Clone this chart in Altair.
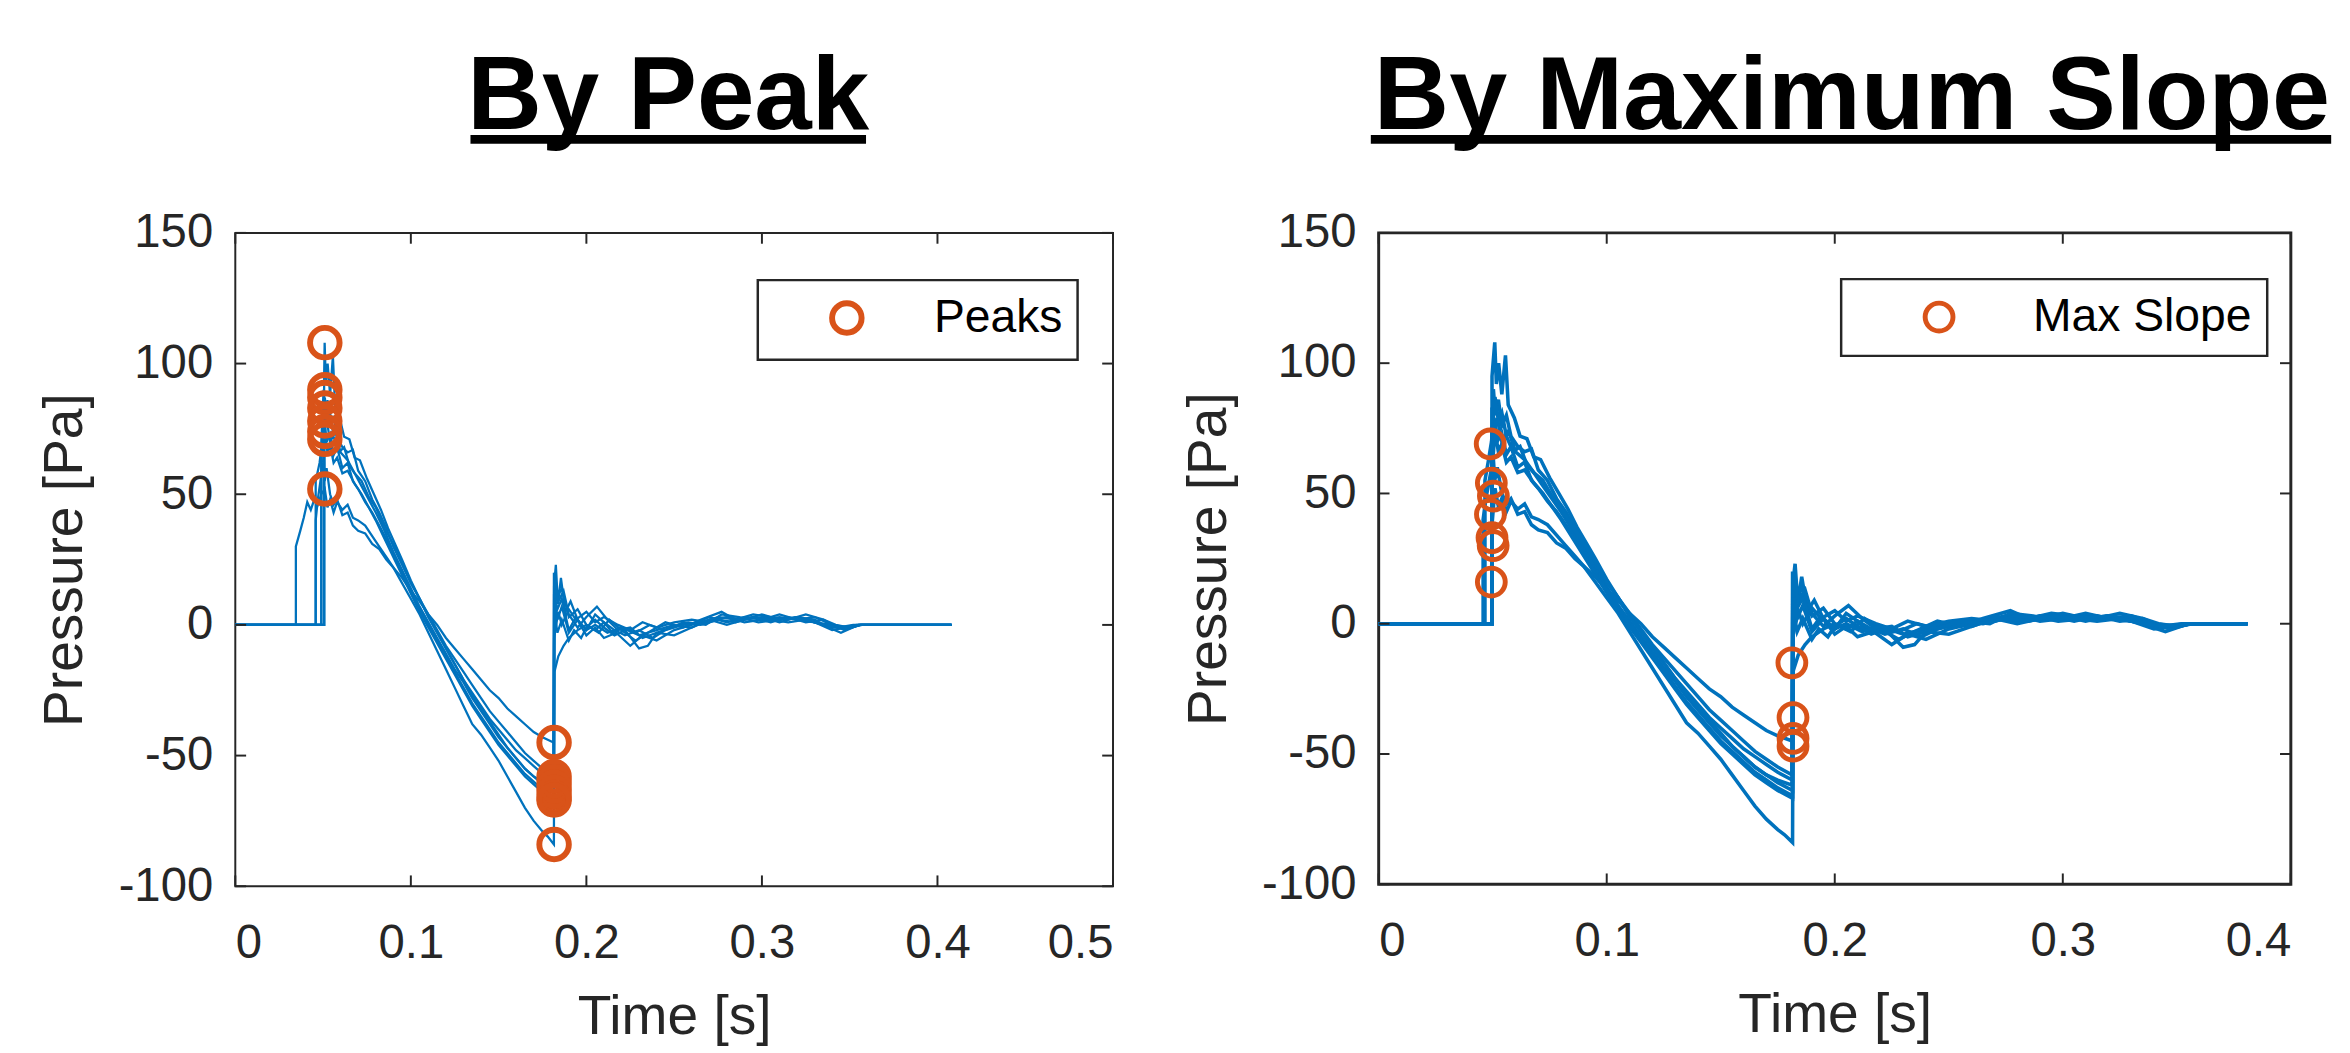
import altair as alt
import pandas as pd

FONT = "Liberation Sans"
BLUE = "#0072BD"
ORANGE = "#D95319"
INK = "#262626"

# ---------------- data ----------------
TRACE_NAMES = ["A", "B", "C", "D", "E", "F", "G", "H"]

ONSET_LEFT = [0.0506, 0.0490, 0.0458, 0.0506, 0.0490, 0.0458, 0.0506, 0.0345]
ONSET_RIGHT = [0.0497, 0.0497, 0.0466, 0.0497, 0.0497, 0.0458, 0.0497, 0.0497]
JUMP_LEFT = [95, 70, 55, 83, 65, 40, 71, 30]
JUMP_RIGHT = [95, 70, 55, 83, 65, 40, 71, 38]
START_T = 0.0
END_T_LEFT = 0.408
END_T_RIGHT = 0.381

H_LEFT_RAMP = [(0.037, 36), (0.039, 41), (0.041, 47), (0.043, 44), (0.045, 48), (0.047, 46), (0.049, 50)]

A_BODY = [(0.0509, 108), (0.0516, 92), (0.0526, 100), (0.054, 88), (0.0556, 103), (0.0568, 84), (0.0595, 79),
          (0.062, 72), (0.065, 71), (0.068, 64), (0.071, 63), (0.075, 56), (0.079, 50), (0.083, 44), (0.087, 37),
          (0.091, 31), (0.095, 25), (0.1, 17), (0.105, 10), (0.11, 3), (0.115, -3), (0.12, -9), (0.125, -15),
          (0.13, -21), (0.135, -26), (0.14, -31), (0.145, -36), (0.15, -40), (0.155, -44), (0.16, -48),
          (0.165, -51), (0.17, -54), (0.175, -57), (0.1814, -60), (0.1816, 15), (0.1826, 23), (0.1838, 8),
          (0.1855, 18), (0.188, 5), (0.191, 9), (0.195, 2), (0.2, -2), (0.205, 4), (0.21, 1), (0.215, -3),
          (0.22, -1), (0.23, -4), (0.24, -2), (0.25, 0), (0.26, -1), (0.27, 2), (0.28, 3), (0.29, 1), (0.3, 2),
          (0.31, 3), (0.32, 2), (0.33, 1), (0.34, -2), (0.348, -1), (0.355, 0)]
B_BODY = [(0.0503, 90), (0.0512, 80), (0.0525, 86), (0.054, 76), (0.056, 80), (0.058, 72), (0.061, 68),
          (0.064, 66), (0.067, 67), (0.07, 59), (0.074, 55), (0.078, 48), (0.082, 43), (0.086, 37), (0.09, 30),
          (0.095, 23), (0.1, 16), (0.105, 10), (0.11, 4), (0.115, -2), (0.12, -8), (0.125, -13), (0.13, -18),
          (0.135, -23), (0.14, -28), (0.145, -33), (0.15, -37), (0.155, -41), (0.16, -45), (0.165, -49),
          (0.17, -52), (0.175, -55), (0.1812, -58), (0.1815, 20), (0.183, 10), (0.186, 14), (0.19, 3),
          (0.195, 6), (0.2, 0), (0.207, -3), (0.213, 2), (0.22, -2), (0.228, -6), (0.235, -3), (0.245, 1),
          (0.255, -1), (0.265, 2), (0.277, 5), (0.285, 2), (0.295, 3), (0.305, 1), (0.315, 3), (0.325, 1),
          (0.335, 2), (0.343, -1), (0.352, 0)]
C_BODY = [(0.048, 62), (0.0495, 70), (0.051, 87), (0.0525, 78), (0.054, 81), (0.056, 72), (0.059, 66),
          (0.062, 68), (0.065, 61), (0.068, 58), (0.072, 53), (0.076, 48), (0.08, 43), (0.085, 36), (0.09, 28),
          (0.095, 21), (0.1, 14), (0.105, 7), (0.11, 1), (0.115, -5), (0.12, -11), (0.125, -17), (0.13, -22),
          (0.135, -28), (0.14, -33), (0.145, -38), (0.15, -43), (0.155, -47), (0.16, -51), (0.165, -55),
          (0.17, -58), (0.175, -60), (0.1813, -62), (0.1816, 12), (0.1835, 6), (0.186, 10), (0.19, -2),
          (0.194, 3), (0.2, -4), (0.205, -1), (0.21, -5), (0.217, -3), (0.225, -8), (0.232, -4), (0.24, -6),
          (0.25, -2), (0.26, 0), (0.27, 3), (0.28, 1), (0.29, 3), (0.3, 2), (0.31, 4), (0.32, 2), (0.33, 3),
          (0.34, 0), (0.347, -2), (0.356, 0)]
D_BODY = [(0.0509, 75), (0.052, 79), (0.054, 70), (0.057, 74), (0.06, 66), (0.064, 63), (0.068, 58),
          (0.072, 55), (0.076, 49), (0.08, 45), (0.085, 37), (0.09, 31), (0.095, 24), (0.1, 16), (0.105, 10),
          (0.11, 3), (0.115, -3), (0.12, -9), (0.125, -15), (0.13, -21), (0.135, -27), (0.14, -32),
          (0.145, -37), (0.15, -42), (0.155, -47), (0.16, -51), (0.165, -55), (0.17, -58), (0.175, -61),
          (0.1815, -64), (0.1818, 18), (0.184, 9), (0.187, 13), (0.19, 4), (0.195, -1), (0.2, 3), (0.206, 7),
          (0.212, 2), (0.218, -2), (0.225, -1), (0.232, -5), (0.24, -3), (0.248, -1), (0.258, 1), (0.268, 0),
          (0.277, 4), (0.287, 3), (0.298, 1), (0.31, 2), (0.32, 3), (0.33, 2), (0.338, -1), (0.345, -3),
          (0.355, 0)]
E_BODY = [(0.0503, 72), (0.051, 78), (0.052, 70), (0.054, 73), (0.056, 65), (0.058, 68), (0.061, 60),
          (0.064, 62), (0.067, 55), (0.07, 52), (0.074, 47), (0.078, 43), (0.082, 38), (0.086, 33), (0.09, 27),
          (0.095, 20), (0.1, 13), (0.105, 6), (0.11, 0), (0.115, -6), (0.12, -12), (0.125, -18), (0.13, -24),
          (0.135, -30), (0.14, -35), (0.145, -40), (0.15, -45), (0.155, -49), (0.16, -53), (0.165, -57),
          (0.17, -60), (0.175, -63), (0.1815, -66), (0.1818, 5), (0.1835, -3), (0.186, 2), (0.19, -6),
          (0.193, -2), (0.197, -5), (0.2, -1), (0.205, 2), (0.21, -1), (0.216, -4), (0.222, -2), (0.23, -9),
          (0.235, -8), (0.24, -3), (0.25, -4), (0.26, -1), (0.27, 2), (0.28, 0), (0.29, 2), (0.3, 3), (0.31, 1),
          (0.32, 3), (0.33, 1), (0.34, -1), (0.35, -1), (0.356, 0)]
F_BODY = [(0.047, 48), (0.0485, 55), (0.05, 62), (0.051, 74), (0.0525, 66), (0.054, 69), (0.056, 62),
          (0.058, 64), (0.061, 58), (0.064, 59), (0.068, 54), (0.072, 50), (0.076, 45), (0.08, 40), (0.085, 33),
          (0.09, 26), (0.095, 19), (0.1, 12), (0.105, 5), (0.11, -1), (0.115, -7), (0.12, -13), (0.125, -19),
          (0.13, -25), (0.135, -31), (0.14, -36), (0.145, -41), (0.15, -46), (0.155, -50), (0.16, -54),
          (0.165, -58), (0.17, -61), (0.175, -64), (0.1815, -67), (0.1818, -18), (0.184, -12), (0.187, -8),
          (0.19, -5), (0.195, -2), (0.2, 0), (0.205, -2), (0.21, 1), (0.216, -2), (0.222, -4), (0.23, -2),
          (0.238, -5), (0.245, -2), (0.255, 0), (0.265, 1), (0.275, 3), (0.285, 2), (0.295, 4), (0.305, 3),
          (0.315, 2), (0.325, 4), (0.335, 2), (0.342, 0), (0.35, -1), (0.357, 0)]
G_BODY = [(0.0509, 55), (0.052, 60), (0.054, 50), (0.056, 46), (0.058, 48), (0.061, 42), (0.064, 43),
          (0.067, 38), (0.07, 36), (0.074, 35), (0.078, 31), (0.082, 29), (0.086, 25), (0.09, 22), (0.095, 18),
          (0.1, 13), (0.105, 9), (0.11, 4), (0.115, 0), (0.12, -5), (0.125, -9), (0.13, -13), (0.135, -17),
          (0.14, -21), (0.145, -25), (0.15, -28), (0.155, -32), (0.16, -35), (0.165, -38), (0.17, -41),
          (0.175, -43), (0.1813, -45), (0.1816, -5), (0.184, 5), (0.186, 0), (0.19, 6), (0.194, 2), (0.2, 5),
          (0.205, 1), (0.21, 3), (0.218, 0), (0.225, -2), (0.232, 1), (0.24, -1), (0.25, 1), (0.26, 2),
          (0.27, 1), (0.28, 3), (0.29, 2), (0.3, 4), (0.31, 2), (0.32, 3), (0.33, 1), (0.34, 0), (0.35, -1),
          (0.356, 0)]
H_BODY = [(0.051, 52), (0.0525, 45), (0.054, 48), (0.056, 43), (0.058, 47), (0.061, 44), (0.064, 46),
          (0.067, 41), (0.07, 40), (0.074, 38), (0.078, 34), (0.082, 30), (0.086, 26), (0.09, 22), (0.095, 16),
          (0.1, 10), (0.105, 4), (0.11, -3), (0.115, -10), (0.12, -17), (0.125, -24), (0.13, -31), (0.135, -38),
          (0.14, -42), (0.145, -47), (0.15, -52), (0.155, -58), (0.16, -64), (0.165, -70), (0.17, -75),
          (0.175, -79), (0.178, -81), (0.1815, -84), (0.1818, 10), (0.1835, 2), (0.186, 7), (0.19, -3),
          (0.195, 2), (0.2, -2), (0.205, 0), (0.212, -3), (0.22, -1), (0.228, -3), (0.236, 0), (0.245, -2),
          (0.255, 1), (0.265, 0), (0.275, 2), (0.285, 1), (0.295, 3), (0.305, 2), (0.315, 1), (0.325, 2),
          (0.335, 0), (0.345, -1), (0.354, 0)]
BODIES = [A_BODY, B_BODY, C_BODY, D_BODY, E_BODY, F_BODY, G_BODY, H_BODY]

PEAK_T_LEFT = [0.051, 0.051, 0.051, 0.051, 0.051, 0.051, 0.051, 0.051]
PEAK_P_LEFT = [108, 90, 87, 83, 78, 74, 71, 52]
TROUGH_T_LEFT = [0.1816, 0.1816, 0.1816, 0.1816, 0.1816, 0.1816, 0.1816, 0.1816]
TROUGH_P_LEFT = [-45, -58, -60, -62, -64, -66, -67, -84]

SLOPE_T_RIGHT = [0.0489, 0.0494, 0.0503, 0.0490, 0.0497, 0.0502, 0.0494, 0.1812, 0.1817, 0.1817, 0.1817]
SLOPE_P_RIGHT = [69, 54, 49, 42, 33, 30, 16, -15, -36, -44, -47]

YTICKS = [-100, -50, 0, 50, 100, 150]
XTICKS_LEFT = [0, 0.1, 0.2, 0.3, 0.4, 0.5]
XTICKS_RIGHT = [0, 0.1, 0.2, 0.3, 0.4]


def line_frame(onsets, jumps, leads, end_t):
    rows = []
    for k, name in enumerate(TRACE_NAMES):
        pts = [(START_T, 0), (onsets[k], 0), (onsets[k], jumps[k])] + leads.get(name, []) + BODIES[k] + [(end_t, 0)]
        for i, (t, p) in enumerate(pts):
            rows.append({"trace": name, "i": i, "t": t, "p": p})
    return pd.DataFrame(rows)


def panel(lines_df, pts_df, label, xmax, xticks, W, H, leg_x, leg_y, sym_off, lab_off, title, title_x,
          title_size, ul_x1, ul_x2, lw, msize, msw, frame_w):
    xs = alt.Scale(domain=[0, xmax], nice=False, zero=False)
    ys = alt.Scale(domain=[-100, 150], nice=False, zero=False)
    x_enc = alt.X("t:Q", scale=xs, axis=alt.Axis(values=xticks, title="Time [s]",
                                                 labelExpr="toString(datum.value)"))
    y_enc = alt.Y("p:Q", scale=ys, axis=alt.Axis(values=YTICKS, title="Pressure [Pa]",
                                                 labelExpr="toString(datum.value)"))

    lines = alt.Chart(lines_df).mark_line(color=BLUE, strokeWidth=lw, strokeJoin="miter").encode(
        x=x_enc, y=y_enc, detail="trace:N", order=alt.Order("i:Q"))

    pts = alt.Chart(pts_df).mark_point(shape="circle", filled=False, size=msize, strokeWidth=msw,
                                       opacity=1).encode(
        x=x_enc, y=y_enc,
        color=alt.Color("label:N", scale=alt.Scale(domain=[label], range=[ORANGE]),
                        legend=alt.Legend(title=None, orient="none", legendX=leg_x, legendY=leg_y,
                                          strokeColor=INK, fillColor="white", padding=15, cornerRadius=0,
                                          labelFont=FONT, labelFontSize=47, labelColor="black",
                                          labelLimit=0,
                                          symbolSize=msize, symbolStrokeWidth=msw, symbolType="circle",
                                          symbolOffset=sym_off, labelOffset=lab_off)))

    xt = pd.DataFrame({"t": xticks})
    yt = pd.DataFrame({"p": YTICKS})
    tb = alt.Chart(xt).mark_rule(color=INK, strokeWidth=2).encode(x=x_enc, y=alt.value(H), y2=alt.value(H - 11))
    tt = alt.Chart(xt).mark_rule(color=INK, strokeWidth=2).encode(x=x_enc, y=alt.value(0), y2=alt.value(11))
    tl = alt.Chart(yt).mark_rule(color=INK, strokeWidth=2).encode(y=y_enc, x=alt.value(0), x2=alt.value(11))
    tr = alt.Chart(yt).mark_rule(color=INK, strokeWidth=2).encode(y=y_enc, x=alt.value(W - 11), x2=alt.value(W))

    head = alt.Chart(alt.Data(values=[{"s": title}])).mark_text(
        font=FONT, fontSize=title_size, fontWeight="bold", color="black", align="center", baseline="alphabetic"
    ).encode(text="s:N", x=alt.value(title_x), y=alt.value(-106))

    ul = alt.Chart(alt.Data(values=[{"u": 1}])).mark_rule(color="black", strokeWidth=9).encode(
        x=alt.value(ul_x1), x2=alt.value(ul_x2), y=alt.value(-95))

    return alt.layer(lines, pts, tb, tt, tl, tr, head, ul).properties(
        width=W, height=H,
        view=alt.ViewBackground(stroke=INK, strokeWidth=frame_w),
    )


left_lines = line_frame(ONSET_LEFT, JUMP_LEFT, {"H": H_LEFT_RAMP}, END_T_LEFT)
right_lines = line_frame(ONSET_RIGHT, JUMP_RIGHT, {}, END_T_RIGHT)

left_pts = pd.DataFrame({"t": PEAK_T_LEFT + TROUGH_T_LEFT, "p": PEAK_P_LEFT + TROUGH_P_LEFT,
                         "label": ["Peaks"] * (len(PEAK_P_LEFT) + len(TROUGH_P_LEFT))})
right_pts = pd.DataFrame({"t": SLOPE_T_RIGHT, "p": SLOPE_P_RIGHT, "label": ["Max Slope"] * len(SLOPE_P_RIGHT)})

left = panel(left_lines, left_pts, "Peaks", 0.5, XTICKS_LEFT, 892, 664, 531, 48, 52, 65, "By Peak", 440, 105,
             239, 641, 2.3, 900, 6, 2)
right = panel(right_lines, right_pts, "Max Slope", 0.4, XTICKS_RIGHT, 927, 662, 470, 47, 61, 72,
              "By Maximum Slope", 481, 106, -8, 968, 3.6, 800, 5, 3)

chart = alt.hconcat(left, right, spacing=65).resolve_scale(color="independent").properties(
    padding={"left": 28, "top": 27, "right": 5, "bottom": 5}
).configure_axis(
    labelFont=FONT, labelFontSize=48, labelColor=INK, titleFont=FONT, titleFontSize=56, titleColor=INK,
    titleFontWeight="normal", grid=False, ticks=False, domain=False,
).configure_axisX(labelPadding=34, titlePadding=24).configure_axisY(labelPadding=23, titlePadding=25
).configure_legend(strokeWidth=2.5)

chart.save("out.html", embed_options={"renderer": "svg", "actions": False})
